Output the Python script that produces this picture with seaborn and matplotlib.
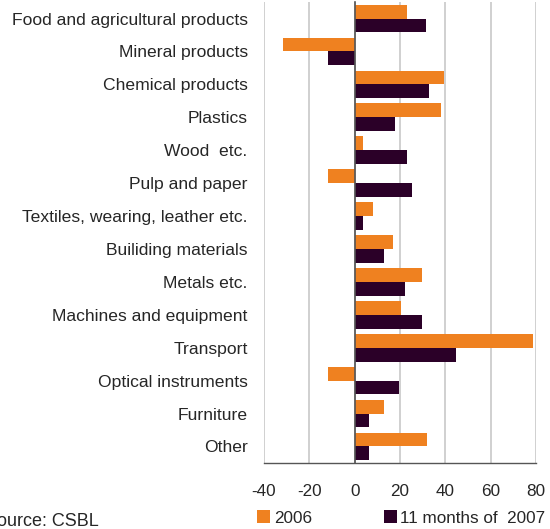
import numpy as np
import pandas as pd
from matplotlib import pyplot as plt
from matplotlib.ticker import FixedLocator
import seaborn as sns


categories = ["Food and agricultural products", "Mineral products", "Chemical products",
              "Plastics", "Wood  etc.", "Pulp and paper", "Textiles, wearing, leather etc.",
              "Builiding materials", "Metals etc.", "Machines and equipment", "Transport",
              "Optical instruments", "Furniture", "Other"]
vals_2006 = [23.2, -31.8, 39.3, 38.0, 3.5, -11.9, 7.9, 16.8, 29.6, 20.3, 78.5, -11.9, 12.8, 31.8]
vals_2007 = [31.6, -11.9, 32.6, 17.6, 23.2, 25.1, 3.5, 12.8, 22.1, 29.6, 44.6, 19.4, 6.2, 6.2]
series = ["2006", "11 months of  2007"]
xticks = [-40, -20, 0, 20, 40, 60, 80]

data = pd.DataFrame({
    "category": categories * 2,
    "value": vals_2006 + vals_2007,
    "series": [series[0]] * len(categories) + [series[1]] * len(categories),
})

sns.set_style("white")
plt.rcParams['font.family'] = ['Liberation Sans', 'DejaVu Sans']
plt.rcParams['axes.unicode_minus'] = False

fig = plt.figure(figsize=(5.5, 5.29), dpi=100)
ax = fig.add_axes([0.48, 0.125, 0.4945, 0.871])

sns.barplot(data=data, x="value", y="category", hue="series", orient="h",
            palette=["#EF8120", "#2B0028"], width=0.84, gap=0, saturation=1,
            linewidth=0, ax=ax)

ax.set_xlim(-40, 80)
ax.set_ylim(len(categories) - 0.5, -0.5)
ax.set_xticks(xticks)
ax.set_xlabel("")
ax.set_ylabel("")
ax.grid(axis="x", color="#c8c8c8", linewidth=1.2)
ax.set_axisbelow(True)

for s in ["top", "right"]:
    ax.spines[s].set_visible(False)
ax.spines["left"].set_position(("data", 0))
ax.spines["left"].set_color("#555555")
ax.spines["left"].set_linewidth(1.2)
ax.spines["bottom"].set_color("#555555")
ax.spines["bottom"].set_linewidth(1)

ax.tick_params(axis="x", length=5, width=1, color="#333333", pad=10, labelsize=12.3)
ax.tick_params(axis="y", which="major", length=0, pad=77, labelsize=12.6)
ax.yaxis.set_minor_locator(FixedLocator(np.arange(-0.5, len(categories), 1)))
ax.tick_params(axis="y", which="minor", length=5, width=1, color="#333333", direction="out")

ax.legend(loc="center left", bbox_to_anchor=(-0.026, -0.12), ncol=2, frameon=False,
          handlelength=0.78, handleheight=0.78, handletextpad=0.2, columnspacing=4.2,
          fontsize=12.3, borderaxespad=0, borderpad=0)

# source note sits partly off the left edge, as in the original
fig.text(-0.027, 0.015, "Source: CSBL", fontsize=13, ha="left", va="center")

fig.savefig("out.png", dpi=100)
